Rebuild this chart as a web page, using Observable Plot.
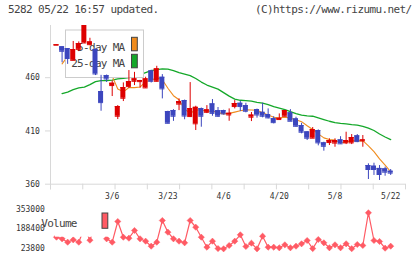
<!DOCTYPE html>
<html><head><meta charset="utf-8">
<script src="https://cdn.jsdelivr.net/npm/d3@7"></script>
<script src="https://cdn.jsdelivr.net/npm/@observablehq/plot@0.6"></script>
<style>
body{margin:0;background:#fff;width:420px;height:259px;overflow:hidden;font-family:"DejaVu Sans Mono",monospace;}
#hdr{position:relative;height:22px;}
#hdr span{position:absolute;top:3px;font-size:11px;letter-spacing:-0.6px;color:#444;white-space:pre;line-height:14px}
#chart svg{display:block}
</style></head><body>
<div id="hdr"><span style="left:8px">5282 05/22 16:57 updated.</span><span style="left:255px">(C)https://www.rizumu.net/</span></div>
<div id="chart"></div>
<script>
const dates = ["2/19","2/20","2/24","2/25","2/26","2/27","3/2","3/3","3/4","3/5","3/6","3/9","3/10","3/11","3/12","3/13","3/16","3/17","3/18","3/19","3/23","3/24","3/25","3/26","3/27","3/30","3/31","4/1","4/2","4/3","4/6","4/7","4/8","4/9","4/10","4/13","4/14","4/15","4/16","4/17","4/20","4/21","4/22","4/23","4/24","4/27","4/28","4/30","5/1","5/7","5/8","5/11","5/12","5/13","5/14","5/15","5/18","5/19","5/20","5/21","5/22"];
const open = [490.5,489,487.3,476.3,486.6,492.6,491,486.5,447,461.9,
452.6,423.8,440.7,451.6,456.6,456.3,450.4,466.3,456.6,460.4,
428.2,429.1,435.2,438.5,423.5,416.7,431,427.5,435.4,429,
429.1,425,432.9,436,433.8,422.9,430,427.5,425.3,421.5,
420.7,423.8,427,421.3,415.1,409.1,403.2,410.4,398.8,399.1,
398.6,401.6,398.8,398.8,405.4,400.7,377.5,376.9,374.8,374.4,
372.2];
const high = [491,489,487.3,494,493.6,514,497,487,462.2,462.5,
457,433.8,455.1,466.7,465,457.5,460.4,467,470.7,462.9,
428.5,430,440.1,439,455.4,433.2,431.5,433.8,439.5,432,
429.5,430.7,438.5,437.8,436,427.3,430.5,436,430.7,423.4,
426,429.1,430,422.9,417.2,409.4,413.2,411,399.4,402.6,
402.6,404.6,408.8,406.6,406.6,405.7,379.1,379.7,377.5,376,
373.8];
const low = [490.5,474,472.5,476,484.5,492,490,462,428.5,455.5,
442.3,420.7,437.6,450,452.6,450.2,450,455,456,440.1,
416.6,419,429.1,420.5,422.6,410.4,413.5,426.3,423.8,422.8,
425,419.1,430.7,428.2,427,418.8,422,422.3,421.3,416.6,
420.7,423.5,419,413.5,407.3,401,402.9,396,391,396.3,
394.7,397.6,397.2,397.2,399,394.7,364.4,368.2,363.5,367.5,
368.2];
const close = [491,484.8,478,486.4,492,512,493.6,463.5,436.6,458.8,
454.8,432.9,450.7,456.3,458.9,457.3,458.9,456.6,468.3,449.5,
417.2,423.8,437.6,424,431,432.2,423.8,429.8,426.5,423.8,
426,426.6,435.7,432.9,428.5,424.9,425,423.8,422.3,417.8,
421.9,429.1,419.1,414.4,408.8,403.2,411.3,398.8,395.6,401,
401,397.9,401,403.8,400,401.6,373.8,373.8,369.1,371.3,
370.4];
const ma5 = [null,473,480,482,486.4,490.6,492.4,489.5,479.5,472.9,
461.5,449.3,446.8,450.7,450.7,451.2,456.4,457.6,460,458.1,
450.1,443.1,439.3,430.4,426.7,429.7,429.7,428.2,428.7,427.2,
426,426.5,427.7,429,429.9,429.7,429.4,427,424.9,422.8,
422.2,423,422,420.5,418.7,414.9,411.4,407.3,403.5,402,
401.5,398.9,399.3,400.9,400.7,400.9,396,390.6,383.7,377.9,
371.7];
const ma25 = [null,445.1,446.5,448.8,450.4,451.2,453.5,456.3,457.3,457.3,
457.7,458.9,459.4,460.1,460.8,462.9,464.8,466.7,467.6,468.3,
468.1,466.7,464.8,463.4,462,459.2,455.9,453.1,451.2,449.3,
446,442.7,439.9,438.8,438.5,438,436.9,436.2,434.8,432.9,
431.5,430.1,428.2,426.3,424.9,424.2,423.8,422.3,420.7,419.1,
417.9,417.2,416.7,416,415.5,414.3,412.7,410.4,407.1,404.3,
401.9];
const volume = [120000,106500,78400,98200,78400,200000,95000,230000,280000,106500,
78400,249600,119700,111500,175200,106500,86700,45300,78400,257900,
161100,106500,86700,73400,257900,202500,119700,37000,86700,26000,
23800,51100,86700,139600,42800,70100,23800,128000,37000,37000,
32100,56900,32100,45300,65200,92400,25500,100700,73400,32100,
56900,32100,65200,24500,59400,51100,321600,92400,84200,28800,
45300];
const tickLabels = ["3/6","3/23","4/6","4/20","5/8","5/22"];
const priceTicks = [360,410,460];
const volTicks = [23800,188400,353000];

const RED = "#dd0000", BLUE = "#3c46be", ORANGE = "#f08c1e", GREEN = "#15a82a", VOLC = "#ff5a64", GRID = "#d8d8d8", TXT = "#333";
const FONT = "DejaVu Sans Mono";

const rows = dates.map((d, i) => ({i, d, o: open[i], h: high[i], l: low[i], c: close[i],
  m5: ma5[i], m25: ma25[i], v: volume[i], col: close[i] >= open[i] ? RED : BLUE}));
const labelRows = rows.filter(r => tickLabels.includes(r.d));
const xDomain = [-1.08, 62.66];
const gridTicks = d3.range(12).map(k => xDomain[0] + k * (xDomain[1] - xDomain[0]) / 11);
const W = 0.45;

const main = Plot.plot({
  width: 420, height: 182, marginLeft: 50, marginRight: 15, marginTop: 3, marginBottom: 20.3,
  x: {domain: xDomain, axis: null},
  y: {domain: [360, 509], axis: null},
  color: {type: "identity"},
  style: {background: "transparent", fontFamily: FONT, overflow: "visible"},
  marks: [
    Plot.ruleY([360], {stroke: GRID}),
    Plot.ruleX(gridTicks, {x: d => d, y1: 360, y2: 354.7, stroke: GRID}),
    Plot.ruleX([xDomain[0]], {x: d => d, y1: 509, y2: 354.7, stroke: GRID}),
    Plot.axisY({ticks: priceTicks, tickSize: 5, tickPadding: 5.7, stroke: GRID, fill: TXT, fontSize: 8, tickFormat: d => String(d), label: null}),
    Plot.line(rows.filter(r => r.m25 != null), {x: "i", y: "m25", stroke: GREEN, strokeWidth: 1.3}),
    Plot.line(rows.filter(r => r.m5 != null), {x: "i", y: "m5", stroke: ORANGE, strokeWidth: 1.1}),
    Plot.ruleX(rows, {x: "i", y1: "l", y2: "h", stroke: "col", clip: true}),
    Plot.rect(rows, {x1: d => d.i - W, x2: d => d.i + W, y1: "o", y2: "c", fill: "col", clip: true}),
    Plot.ruleY(rows, {x1: d => d.i - W, x2: d => d.i + W, y: "o", stroke: "col", clip: true}),
    Plot.ruleY(rows, {x1: d => d.i - W, x2: d => d.i + W, y: "c", stroke: "col", clip: true}),
    Plot.text(labelRows, {x: "i", text: "d", frameAnchor: "bottom", dy: 14.3, fontSize: 8, fill: TXT})
  ]
});

const vol = Plot.plot({
  width: 420, height: 55, marginLeft: 50, marginRight: 15, marginTop: 4.5, marginBottom: 10.7,
  x: {domain: xDomain, axis: null},
  y: {domain: [23800, 353000], axis: null},
  style: {background: "transparent", fontFamily: FONT, overflow: "visible"},
  marks: [
    Plot.axisY({ticks: volTicks, tickSize: 0, tickPadding: 5.7, fill: TXT, fontSize: 8, tickFormat: d => String(d), label: null}),
    Plot.line(rows, {x: "i", y: "v", stroke: VOLC, strokeWidth: 1.2}),
    Plot.dot(rows, {x: "i", y: "v", symbol: "diamond2", r: 2.8, fill: VOLC, stroke: VOLC, strokeWidth: 0.5})
  ]
});

document.getElementById("chart").append(main, vol);

// legend of the price panel: over the MA lines, under the candles
{
  const ruleGroups = main.querySelectorAll('g[aria-label="rule"]');
  const wickGroup = ruleGroups[3];
  const g = d3.create("svg:g").attr("font-family", FONT).attr("font-size", 11).attr("letter-spacing", -0.7);
  g.append("rect").attr("x", 65.5).attr("y", 8).attr("width", 78).attr("height", 47.5).attr("fill", "#fff").attr("stroke", "#cccccc");
  const items = [["5-day MA", ORANGE, 28.7, 15.3], ["25-day MA", GREEN, 45, 32.3]];
  for (const [t, c, by, sy] of items) {
    g.append("text").attr("x", 124.5).attr("y", by).attr("text-anchor", "end").attr("fill", "#444").text(t);
    g.append("rect").attr("x", 131.5).attr("y", sy).attr("width", 5.8).attr("height", 13.5).attr("fill", c).attr("stroke", "#444");
  }
  main.insertBefore(g.node(), wickGroup);
}
{
  const svg = d3.select(vol);
  const g = svg.append("g").attr("font-family", FONT).attr("font-size", 11).attr("letter-spacing", -0.7);
  g.append("rect").attr("x", 55).attr("y", 1).attr("width", 57).attr("height", 31.7).attr("fill", "#fff");
  g.append("text").attr("x", 59).attr("y", 22.5).attr("fill", "#444").text("Volume");
  g.append("rect").attr("x", 102).attr("y", 9).attr("width", 5.8).attr("height", 15.3).attr("fill", VOLC).attr("stroke", "#444");
}
</script></body></html>
